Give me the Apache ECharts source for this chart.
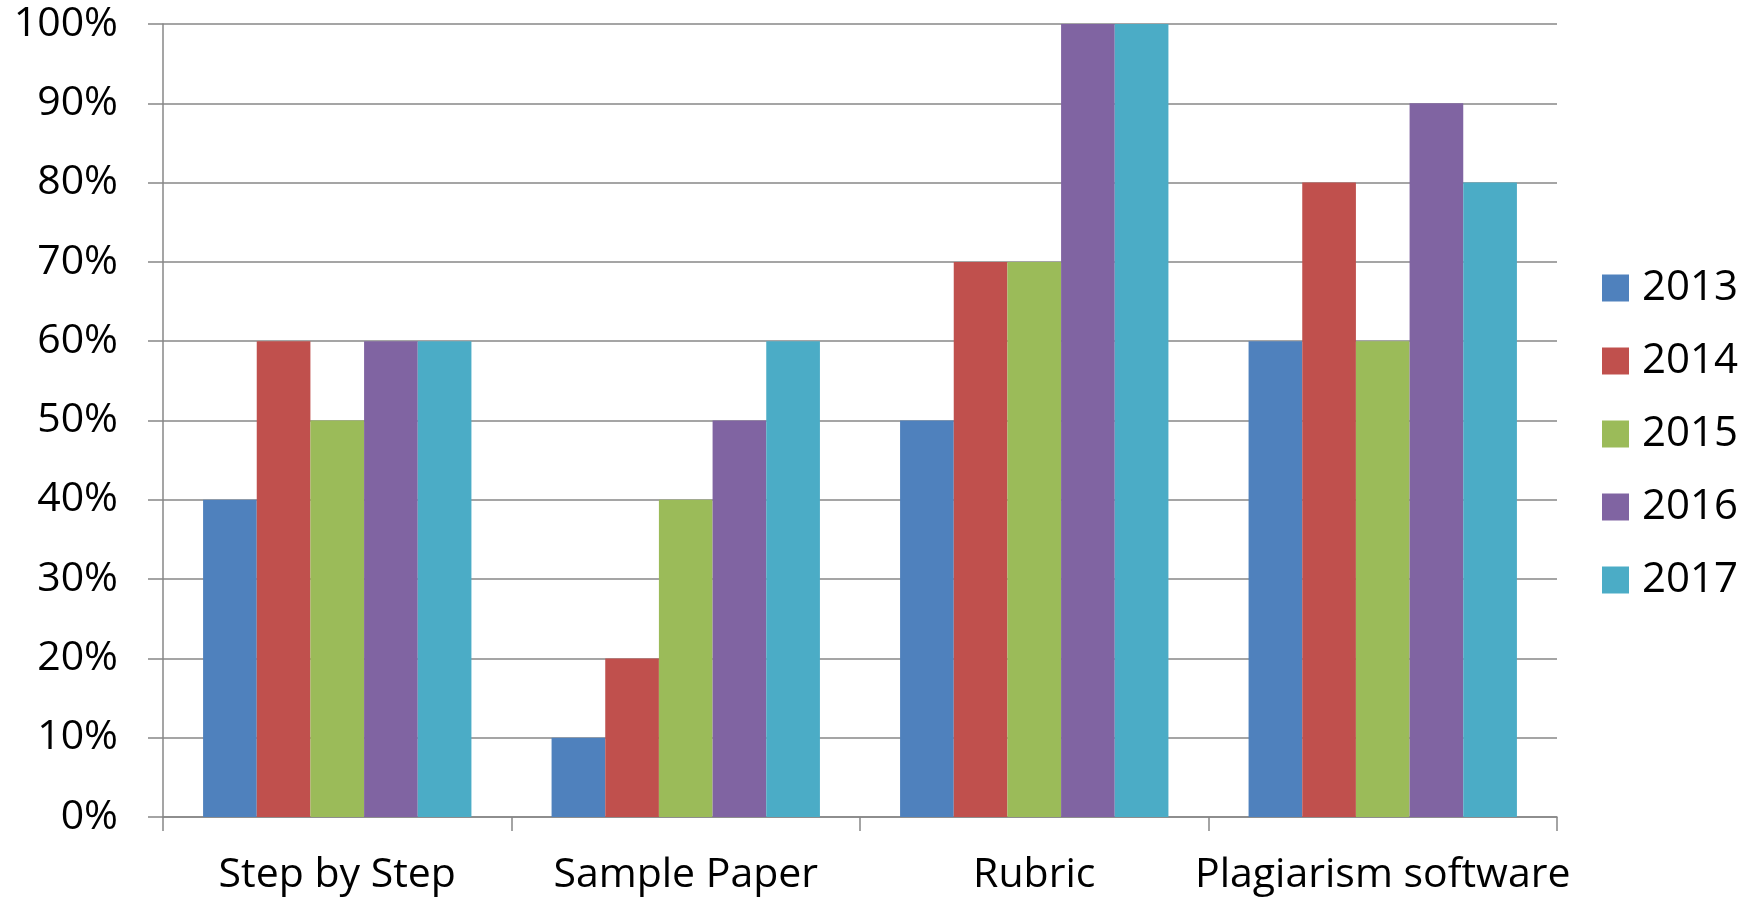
<!DOCTYPE html>
<html>
<head>
<meta charset="utf-8">
<script src="https://cdn.jsdelivr.net/npm/echarts@6/dist/echarts.min.js"></script>
<style>
  html, body { margin: 0; padding: 0; background: #fff; }
  #chart { width: 1756px; height: 903px; }
</style>
</head>
<body>
<div id="chart"></div>
<script>
// Categories and yearly percentages
const categories = ['Step by Step', 'Sample Paper', 'Rubric', 'Plagiarism software'];
const years = ['2013', '2014', '2015', '2016', '2017'];
const v2013 = [40, 10, 50, 60];
const v2014 = [60, 20, 70, 80];
const v2015 = [50, 40, 70, 60];
const v2016 = [60, 50, 100, 90];
const v2017 = [60, 60, 100, 80];
const yearValues = [v2013, v2014, v2015, v2016, v2017];
const colors = ['#4F81BD', '#C0504D', '#9BBB59', '#8064A2', '#4BACC6'];

const FONT = 'Open Sans';
const axisGray = '#878787';

const chart = echarts.init(document.getElementById('chart'), null, { renderer: 'canvas' });

chart.setOption({
  animation: false,
  backgroundColor: '#ffffff',
  textStyle: { fontFamily: FONT },
  grid: { left: 163, right: 199, top: 24, bottom: 86, containLabel: false },
  legend: {
    orient: 'vertical',
    left: 1597,
    top: 262,
    itemWidth: 27,
    itemHeight: 27,
    itemGap: 31,
    icon: 'rect',
    textStyle: { fontSize: 42, color: '#000', fontFamily: FONT, padding: [0, 0, 0, 8] },
    data: years
  },
  xAxis: {
    type: 'category',
    data: categories,
    boundaryGap: true,
    axisLine: { show: true, lineStyle: { color: axisGray, width: 1.5 } },
    axisTick: { show: true, interval: 0, length: 14, lineStyle: { color: axisGray, width: 1.5 } },
    axisLabel: { interval: 0, fontSize: 41, color: '#000', margin: 38, fontFamily: FONT },
    splitLine: { show: false }
  },
  yAxis: {
    type: 'value',
    min: 0,
    max: 100,
    interval: 10,
    axisLine: { show: true, lineStyle: { color: axisGray, width: 1.5 } },
    axisTick: { show: true, length: 15, lineStyle: { color: axisGray, width: 1.5 } },
    axisLabel: { fontSize: 41, color: '#000', margin: 45, formatter: '{value}%', fontFamily: FONT },
    splitLine: { show: true, lineStyle: { color: axisGray, width: 1.5 } }
  },
  series: years.map((y, i) => ({
    name: y,
    type: 'bar',
    data: yearValues[i],
    barGap: '0%',
    barCategoryGap: '23%',
    itemStyle: { color: colors[i] }
  }))
});
</script>
</body>
</html>
